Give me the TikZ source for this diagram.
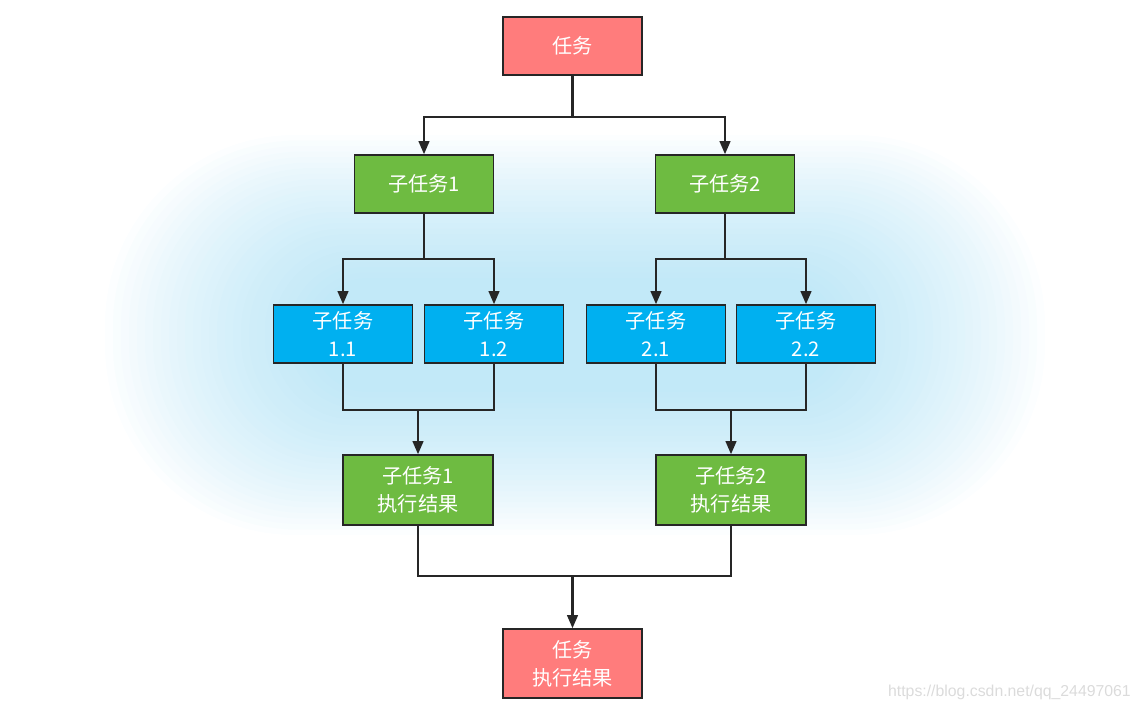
\documentclass[tikz,border=0pt]{standalone}
\usepackage{fontspec}
\newfontfamily\cjk{Noto Sans CJK SC}
\newfontfamily\urlfont{Liberation Sans}
\usetikzlibrary{arrows.meta,positioning}

\definecolor{taskred}{RGB}{255,124,124}
\definecolor{subgreen}{RGB}{110,187,65}
\definecolor{subblue}{RGB}{0,176,240}
\definecolor{glowblue}{RGB}{150,216,242}

\begin{document}
\begin{tikzpicture}[x=0.02cm, y=-0.02cm,
        box/.style={draw=black!85, line width=0.8pt, text=white, align=center,
                inner sep=0pt, minimum width=2.78cm, minimum height=1.16cm,
                font=\cjk\fontsize{11.5}{16}\selectfont},
        taskbox/.style={box, fill=taskred},
        subbox/.style={box, fill=subgreen},
        leafbox/.style={box, fill=subblue},
        link/.style={draw=black!85, line width=1.4pt},
        arr/.style={link, -{Triangle[length=7.5pt,width=6pt]}}]
        \useasboundingbox (0,0) rectangle (1142,711);

        % soft blue glow behind the middle rows
        \foreach \i [evaluate=\i as \rc using (400-11*\i)*0.0095] in {0,...,26}
                \fill[glowblue, opacity=0.032, rounded corners=\rc cm]
                        (105+8*\i,135+5.5*\i) rectangle (1045-8*\i,535-5.5*\i);

        \node[taskbox] (task) at (572.5,46) {任务};
        \node[subbox] (sub1) at (424,184) {子任务1};
        \node[subbox] (sub2) at (725,184) {子任务2};
        \node[leafbox] (s11) at (343,334) {子任务\\1.1};
        \node[leafbox] (s12) at (494,334) {子任务\\1.2};
        \node[leafbox] (s21) at (656,334) {子任务\\2.1};
        \node[leafbox] (s22) at (806,334) {子任务\\2.2};
        \node[subbox, minimum width=3cm, minimum height=1.4cm] (res1) at (418,490) {子任务1\\执行结果};
        \node[subbox, minimum width=3cm, minimum height=1.4cm] (res2) at (731,490) {子任务2\\执行结果};
        \node[taskbox, minimum height=1.38cm] (result) at (572.5,663.5) {任务\\执行结果};

        \coordinate (fork0) at (572.5,117);
        \coordinate (fork1) at (424,259);
        \coordinate (fork2) at (725,259);
        \coordinate (join1) at (418,410);
        \coordinate (join2) at (731,410);
        \coordinate (join0) at (572.5,576);

        \draw[link] (task) -- (fork0);
        \draw[arr] (fork0) -| (sub1);
        \draw[arr] (fork0) -| (sub2);

        \draw[link] (sub1) -- (fork1);
        \draw[arr] (fork1) -| (s11);
        \draw[arr] (fork1) -| (s12);
        \draw[link] (sub2) -- (fork2);
        \draw[arr] (fork2) -| (s21);
        \draw[arr] (fork2) -| (s22);

        \draw[link] (s11) |- (join1) (s12) |- (join1);
        \draw[arr] (join1) -- (res1);
        \draw[link] (s21) |- (join2) (s22) |- (join2);
        \draw[arr] (join2) -- (res2);

        \draw[link] (res1) |- (join0) (res2) |- (join0);
        \draw[arr] (join0) -- (result);

        \node[anchor=east, text=black!14, font=\urlfont\fontsize{9}{10}\selectfont]
                (url) at (1137,692) {https://blog.csdn.net/qq\_24497061};
\end{tikzpicture}
\end{document}
